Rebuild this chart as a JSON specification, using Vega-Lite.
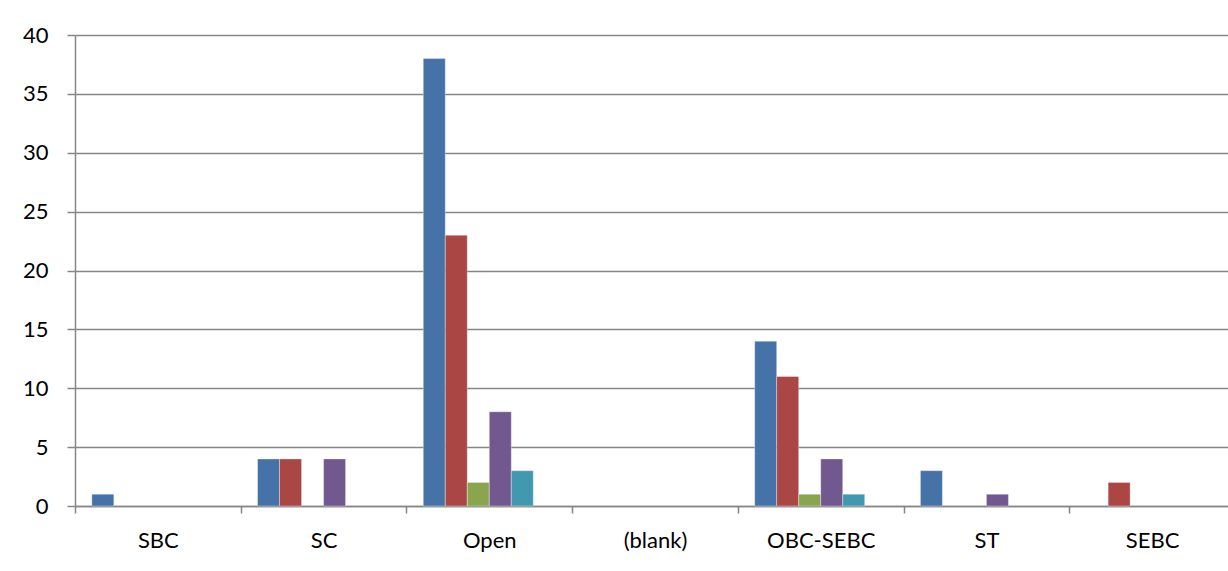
{
  "$schema": "https://vega.github.io/schema/vega-lite/v6.json",
  "width": 1160,
  "height": 471,
  "autosize": {"type": "none"},
  "padding": {"left": 75, "top": 35, "right": -7, "bottom": 65},
  "background": "white",
  "config": {"view": {"stroke": null}, "font": "Lato"},
  "data": {
    "values": [
      {"category": "SBC", "series": "Series1", "value": 1},
      {"category": "SC", "series": "Series1", "value": 4},
      {"category": "SC", "series": "Series2", "value": 4},
      {"category": "SC", "series": "Series4", "value": 4},
      {"category": "Open", "series": "Series1", "value": 38},
      {"category": "Open", "series": "Series2", "value": 23},
      {"category": "Open", "series": "Series3", "value": 2},
      {"category": "Open", "series": "Series4", "value": 8},
      {"category": "Open", "series": "Series5", "value": 3},
      {"category": "OBC-SEBC", "series": "Series1", "value": 14},
      {"category": "OBC-SEBC", "series": "Series2", "value": 11},
      {"category": "OBC-SEBC", "series": "Series3", "value": 1},
      {"category": "OBC-SEBC", "series": "Series4", "value": 4},
      {"category": "OBC-SEBC", "series": "Series5", "value": 1},
      {"category": "ST", "series": "Series1", "value": 3},
      {"category": "ST", "series": "Series4", "value": 1},
      {"category": "SEBC", "series": "Series2", "value": 2}
    ]
  },
  "mark": {"type": "bar", "stroke": "#ffffff", "strokeWidth": 0.6, "strokeOpacity": 0.6},
  "encoding": {
    "x": {
      "field": "category",
      "type": "nominal",
      "sort": null,
      "title": null,
      "scale": {"domain": ["SBC", "SC", "Open", "(blank)", "OBC-SEBC", "ST", "SEBC"], "paddingInner": 0, "paddingOuter": 0},
      "axis": {
        "tickBand": "extent",
        "labelAngle": 0,
        "labelFontSize": 22,
        "labelColor": "#000000",
        "labelPadding": 17,
        "tickSize": 7,
        "tickColor": "#868686",
        "tickWidth": 1.5,
        "domainColor": "#868686",
        "domainWidth": 1.5,
        "grid": false
      }
    },
    "xOffset": {
      "field": "series",
      "type": "nominal",
      "scale": {"domain": ["Series1", "Series2", "Series3", "Series4", "Series5", "Series6"], "paddingInner": 0, "paddingOuter": 0.765}
    },
    "y": {
      "field": "value",
      "type": "quantitative",
      "title": null,
      "scale": {"domain": [0, 40], "nice": false},
      "axis": {
        "values": [0, 5, 10, 15, 20, 25, 30, 35, 40],
        "labelFontSize": 22,
        "labelColor": "#000000",
        "labelPadding": 19,
        "tickSize": 8,
        "tickColor": "#868686",
        "tickWidth": 1.5,
        "domainColor": "#868686",
        "domainWidth": 1.5,
        "grid": true,
        "gridColor": "#868686",
        "gridWidth": 1.5
      }
    },
    "color": {
      "field": "series",
      "type": "nominal",
      "scale": {"domain": ["Series1", "Series2", "Series3", "Series4", "Series5"], "range": ["#4572A7", "#AA4643", "#89A54E", "#71588F", "#4198AF"]},
      "legend": null
    }
  }
}
